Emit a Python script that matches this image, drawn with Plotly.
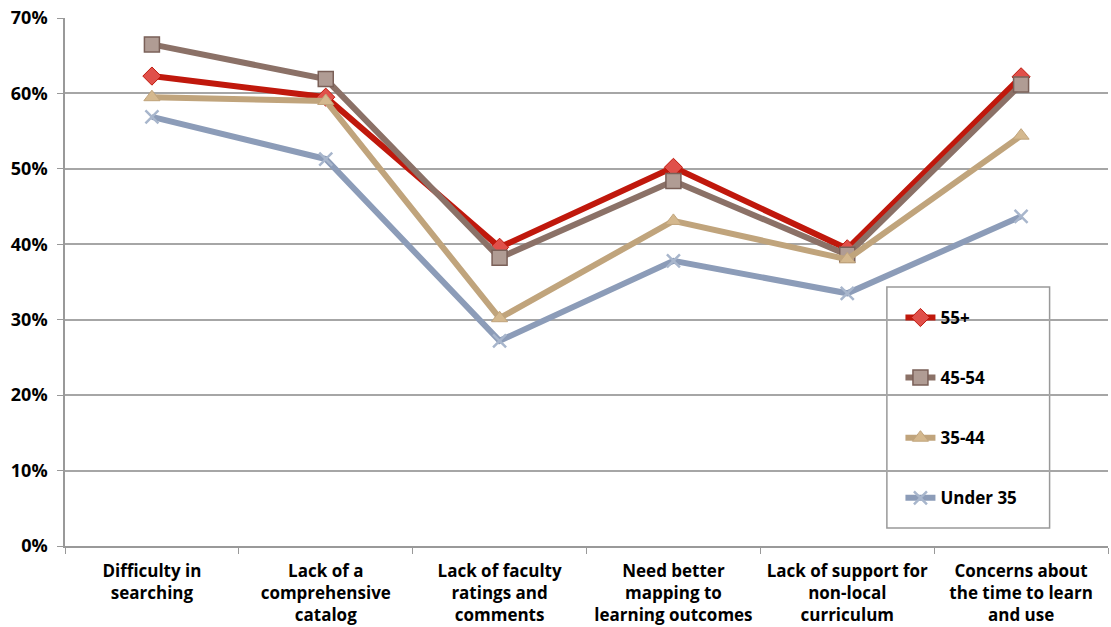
import plotly.graph_objects as go

categories = [
    "Difficulty in<br>searching",
    "Lack of a<br>comprehensive<br>catalog",
    "Lack of faculty<br>ratings and<br>comments",
    "Need better<br>mapping to<br>learning outcomes",
    "Lack of support for<br>non-local<br>curriculum",
    "Concerns about<br>the time to learn<br>and use",
]
series_names = ["55+", "45-54", "35-44", "Under 35"]
v_55plus = [62.3, 59.5, 39.6, 50.2, 39.4, 62.2]
v_45_54 = [66.5, 61.9, 38.2, 48.4, 38.6, 61.2]
v_35_44 = [59.5, 59.0, 30.2, 43.1, 38.0, 54.4]
v_under35 = [56.9, 51.3, 27.2, 37.8, 33.5, 43.7]
y_ticks = [0, 10, 20, 30, 40, 50, 60, 70]

styles = [
    dict(line="#C0180C", marker=dict(symbol="diamond", size=14, color="#E0504A",
                                      line=dict(color="#C0180C", width=1))),
    dict(line="#8B7167", marker=dict(symbol="square", size=15, color="#B09C94",
                                      line=dict(color="#7A6058", width=1.5))),
    dict(line="#C0A47C", marker=dict(symbol="triangle-up", size=14, color="#D4B88E",
                                      line=dict(color="#C0A47C", width=1))),
    dict(line="#8C9CB8", marker=dict(symbol="x-thin", size=13, color="#A8B6CC",
                                      line=dict(color="#A8B6CC", width=2.5))),
]
values = [v_55plus, v_45_54, v_35_44, v_under35]

fig = go.Figure()
for i, (name, vals, st) in enumerate(zip(series_names, values, styles)):
    fig.add_trace(go.Scatter(
        x=categories, y=vals, name=name, mode="lines+markers",
        line=dict(color=st["line"], width=6),
        marker=st["marker"], legendgroup=name,
    ))

font_family = "'Open Sans', Lato, sans-serif"
bold17 = dict(family=font_family, size=17, color="black", weight="bold")
fig.update_layout(
    width=1111, height=627,
    margin=dict(l=65, r=3, t=18, b=81, autoexpand=False),
    paper_bgcolor="white", plot_bgcolor="white",
    font=dict(family=font_family, size=16, color="black"),
    showlegend=True,
    legend=dict(
        x=0.801, y=0.466, xanchor="left", yanchor="top",
        bgcolor="rgba(0,0,0,0)", borderwidth=0,
        traceorder="grouped", tracegroupgap=35,
        font=bold17,
    ),
    shapes=[dict(type="rect", xref="paper", yref="paper",
                 x0=0.788, x1=0.944, y0=0.034, y1=0.4905,
                 line=dict(color="#999999", width=1.5), fillcolor="white", layer="below")],
)
fig.update_xaxes(
    type="category", range=[-0.5, 5.5], automargin=False,
    showline=True, linecolor="#999999", linewidth=1.5,
    ticks="outside", tickson="boundaries", ticklen=6, tickcolor="#999999",
    showgrid=False,
    tickfont=bold17,
    ticklabelstandoff=9,
)
fig.update_yaxes(
    range=[0, 70], tickvals=y_ticks, ticktext=[f"{t}%" for t in y_ticks],
    automargin=False, ticklabeloverflow="allow",
    showline=True, linecolor="#999999", linewidth=1.5,
    ticks="outside", ticklen=6, tickcolor="#999999",
    showgrid=True, gridcolor="#A6A6A6", gridwidth=1.5,
    zeroline=False,
    tickfont=dict(family=font_family, size=18, color="black", weight="bold"),
    ticklabelstandoff=6,
)
fig.write_html(
    "out.html",
    config={"displayModeBar": False},
    post_script="document.body.style.margin='0';document.body.style.overflow='hidden';",
)
